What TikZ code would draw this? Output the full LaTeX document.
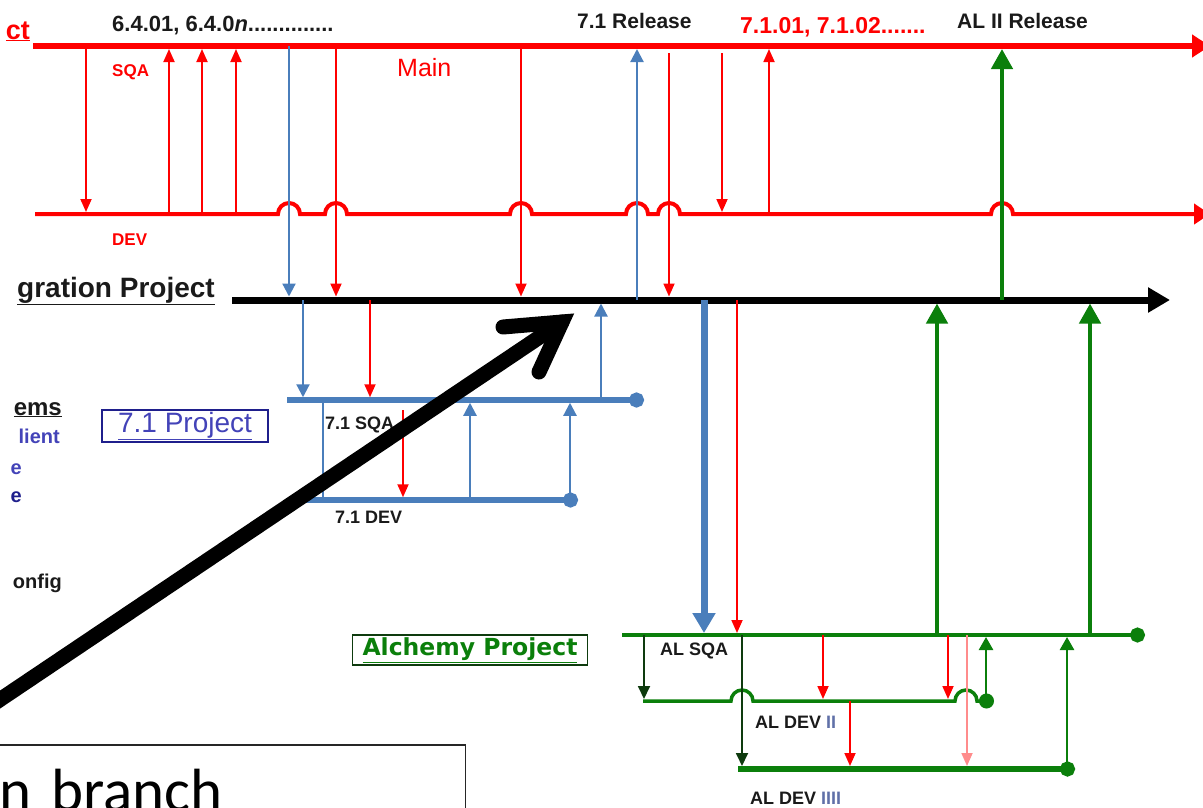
\documentclass[tikz,border=0pt]{standalone}
\usepackage{fontspec}
\setmainfont{Liberation Sans}
\newfontfamily\calloutfont{Carlito}
\newfontfamily\widefont{DejaVu Sans}
\usepackage{xcolor}
\usepackage{tikz}
\usetikzlibrary{arrows.meta, positioning}
\definecolor{Ink}{HTML}{1A1A1A}
\definecolor{Red}{HTML}{FF0000}
\definecolor{Pink}{HTML}{FF8C8C}
\definecolor{Blue}{HTML}{4A7EBB}
\definecolor{Navy}{HTML}{1F1F8C}
\definecolor{Violet}{HTML}{4343B8}
\definecolor{Green}{HTML}{0B7F0B}
\definecolor{DarkGreen}{HTML}{0E3B0E}
\definecolor{Muted}{HTML}{6070A8}
\definecolor{Frame}{HTML}{262626}
\newcommand{\fsz}[1]{\fontsize{#1}{#1}\selectfont}

\begin{document}
\begin{tikzpicture}[
  x=1pt, y=-1pt,
  lbl/.style={font=\bfseries\fsz{18}, text=Ink, inner sep=0pt, anchor=base west},
  redlbl/.style={font=\bfseries\fsz{17}, text=Red, inner sep=0pt, anchor=base west},
  headlbl/.style={font=\bfseries\fsz{21}, text=Ink, inner sep=0pt, anchor=base west},
  sidelbl/.style={font=\bfseries\fsz{20}, inner sep=0pt, anchor=base east},
  projbox/.style={line width=1.8pt, inner sep=0pt},
  notebox/.style={draw=Frame, line width=1.5pt, font=\calloutfont\fsz{61}, text=black, text width=452pt, inner xsep=14pt, inner ysep=24pt, align=left},
  mainline/.style={draw=Red, line width=6pt, -{Triangle[length=18pt, width=22pt]}},
  devline/.style={draw=Red, line width=4pt, -{Triangle[length=16pt, width=20pt]}},
  intline/.style={draw=black, line width=7pt, -{Triangle[length=22pt, width=24pt]}},
  branch71/.style={draw=Blue, line width=5.5pt, -{Circle[length=15pt]}},
  branchAL/.style={draw=Green, line width=4pt, -{Circle[length=15pt]}},
  redarrow/.style={draw=Red, line width=1.8pt, -{Triangle[length=13pt, width=11pt]}, shorten >=2pt},
  pinkarrow/.style={redarrow, draw=Pink},
  bluearrow/.style={draw=Blue, line width=2.2pt, -{Triangle[length=13pt, width=13pt]}, shorten >=2pt},
  fatblue/.style={draw=Blue, line width=7pt, -{Triangle[length=20pt, width=22pt]}, shorten >=2pt},
  greenarrow/.style={draw=Green, line width=2.5pt, -{Triangle[length=13pt, width=14pt]}, shorten >=2pt},
  fatgreen/.style={draw=Green, line width=4.5pt, -{Triangle[length=20pt, width=21pt]}, shorten >=3pt},
  darkarrow/.style={draw=DarkGreen, line width=1.8pt, -{Triangle[length=13pt, width=12pt]}, shorten >=2pt},
  callout/.style={draw=black, line width=15pt, line cap=round, line join=miter}
]
\useasboundingbox (0,0) rectangle (1203,807);

\coordinate (main) at (0,46);
\coordinate (dev) at (0,214);
\coordinate (integ) at (0,300);
\coordinate (sqa71) at (0,400);
\coordinate (dev71) at (0,500);
\coordinate (alsqa) at (0,635);
\coordinate (aldev2) at (0,701);
\coordinate (aldev4) at (0,769);

% branch lines
\draw[mainline] (33,46) -- (1210,46);
\draw[devline] (35,214) -- (278,214) arc[start angle=180, end angle=0, radius=11pt]
  -- (325,214) arc[start angle=180, end angle=0, radius=11pt]
  -- (510,214) arc[start angle=180, end angle=0, radius=11pt]
  -- (626,214) arc[start angle=180, end angle=0, radius=11pt]
  -- (658,214) arc[start angle=180, end angle=0, radius=11pt]
  -- (991,214) arc[start angle=180, end angle=0, radius=11pt] -- (1210,214);
\draw[intline] (232,300) -- (1170,300);
\draw[branch71] (287,400) -- (644,400);
\draw[branch71] (303,500) -- (578,500);
\draw[branchAL] (622,635) -- (1145,635);
\draw[branchAL, line width=3.5pt] (643,701) -- (731,701) arc[start angle=180, end angle=0, radius=11pt]
  -- (955,701) arc[start angle=180, end angle=0, radius=11pt] -- (994,701);
\draw[branchAL, line width=6pt] (738,769) -- (1075,769);

% main / dev
\draw[redarrow] (86,0 |- main) -- (86,0 |- dev);
\draw[redarrow, shorten >=3pt] (169,0 |- dev) -- (169,0 |- main);
\draw[redarrow, shorten >=3pt] (202,0 |- dev) -- (202,0 |- main);
\draw[redarrow, shorten >=3pt] (236,0 |- dev) -- (236,0 |- main);
\draw[bluearrow, shorten >=3.5pt] (289,0 |- main) -- (289,0 |- integ);
\draw[redarrow, shorten >=3.5pt] (336,0 |- main) -- (336,0 |- integ);
\draw[redarrow, shorten >=3.5pt] (521,0 |- main) -- (521,0 |- integ);
\draw[bluearrow, shorten >=3pt] (637,0 |- integ) -- (637,0 |- main);
\draw[redarrow, shorten <=7pt, shorten >=3.5pt] (669,0 |- main) -- (669,0 |- integ);
\draw[redarrow, shorten <=7pt] (722,0 |- main) -- (722,0 |- dev);
\draw[redarrow, shorten >=3pt] (769,0 |- dev) -- (769,0 |- main);
\draw[fatgreen] (1002,0 |- integ) -- (1002,0 |- main);

% 7.1 project
\draw[bluearrow, shorten >=2.75pt] (303,0 |- integ) -- (303,0 |- sqa71);
\draw[redarrow, shorten >=2.75pt] (370,0 |- integ) -- (370,0 |- sqa71);
\draw[bluearrow, -, shorten >=0pt] (323,0 |- sqa71) -- (323,0 |- dev71);
\draw[redarrow, shorten <=10pt, shorten >=2.75pt] (403,0 |- sqa71) -- (403,0 |- dev71);
\draw[bluearrow, shorten >=2.75pt] (470,0 |- dev71) -- (470,0 |- sqa71);
\draw[bluearrow, shorten >=2.75pt] (570,0 |- dev71) -- (570,0 |- sqa71);
\draw[bluearrow, shorten >=3.5pt] (601,0 |- sqa71) -- (601,0 |- integ);

% alchemy project
\draw[fatblue] (704,0 |- integ) -- (704,0 |- alsqa);
\draw[redarrow] (737,0 |- integ) -- (737,0 |- alsqa);
\draw[fatgreen, shorten >=3.5pt] (937,0 |- alsqa) -- (937,0 |- integ);
\draw[fatgreen, shorten >=3.5pt] (1090,0 |- alsqa) -- (1090,0 |- integ);
\draw[darkarrow] (644,0 |- alsqa) -- (644,0 |- aldev2);
\draw[darkarrow, shorten >=3pt] (742,0 |- alsqa) -- (742,0 |- aldev4);
\draw[redarrow] (823,0 |- alsqa) -- (823,0 |- aldev2);
\draw[redarrow, shorten >=3pt] (850,0 |- aldev2) -- (850,0 |- aldev4);
\draw[redarrow] (948,0 |- alsqa) -- (948,0 |- aldev2);
\draw[pinkarrow, shorten >=3pt] (967,0 |- alsqa) -- (967,0 |- aldev4);
\draw[greenarrow] (986,0 |- aldev2) -- (986,0 |- alsqa);
\draw[greenarrow] (1067,0 |- aldev4) -- (1067,0 |- alsqa);

% labels
\node[headlbl, font=\bfseries\fsz{22}] (v64) at (112,31) {6.4.01, 6.4.0\textit{n}..............};
\node[headlbl] (rel71) at (577,28) {7.1 Release};
\node[headlbl, text=Red, font=\bfseries\fsz{23}] (v71) at (740,33) {7.1.01, 7.1.02.......};
\node[headlbl] (relAL) at (957,28) {AL II Release};
\node[anchor=base west, inner sep=0pt, font=\fsz{25}, text=Red] (mainlbl) at (397,76) {Main};
\node[redlbl] (sqalbl) at (112,76) {SQA};
\node[redlbl] (devlbl) at (112,245) {DEV};
\node[sidelbl, font=\bfseries\fsz{27}, text=Red] (mainproj) at (30,39) {\underline{ct}};
\node[sidelbl, font=\bfseries\fsz{28}, text=Ink] (intproj) at (215,297) {\underline{gration Project}};
\node[sidelbl, font=\bfseries\fsz{24}, text=Ink] (sysl) at (62,415) {\underline{ems}};
\node[sidelbl, text=Violet] (clientl) at (60,443) {lient};
\node[sidelbl, text=Violet] (e1) at (22,474) {e};
\node[sidelbl, text=Navy] (e2) at (22,502) {e};
\node[sidelbl, text=Ink] (cfgl) at (62,588) {onfig};

\node[projbox, draw=Navy, text=Violet, font=\fsz{28}, minimum width=166pt, minimum height=32pt] (proj71) at (185,426) {\underline{7.1 Project}};
\node[projbox, draw=DarkGreen, text=Green, font=\widefont\bfseries\fsz{23.5}, minimum width=235pt, minimum height=30pt] (projAL) at (470,650) {\underline{Alchemy Project}};

\node[lbl] (sqa71lbl) at (325,429) {7.1 SQA};
\node[lbl] (dev71lbl) at (335,523) {7.1 DEV};
\node[lbl] (alsqalbl) at (660,655) {AL SQA};
\node[lbl] (aldev2lbl) at (755,728) {AL DEV \textcolor{Muted}{II}};
\node[lbl] (aldev4lbl) at (750,804) {AL DEV \textcolor{Muted}{IIII}};

% callout arrow and note
\coordinate (callout tail) at (-20,713);
\coordinate (callout tip) at (562,322);
\draw[callout] (callout tail) -- (callout tip);
\draw[callout] (callout tip) ++(-59,5) -- (callout tip) -- ++(-23,50);
\node[notebox, anchor=north east] (branchnote) at (466,744) {n branch};
\end{tikzpicture}
\end{document}
